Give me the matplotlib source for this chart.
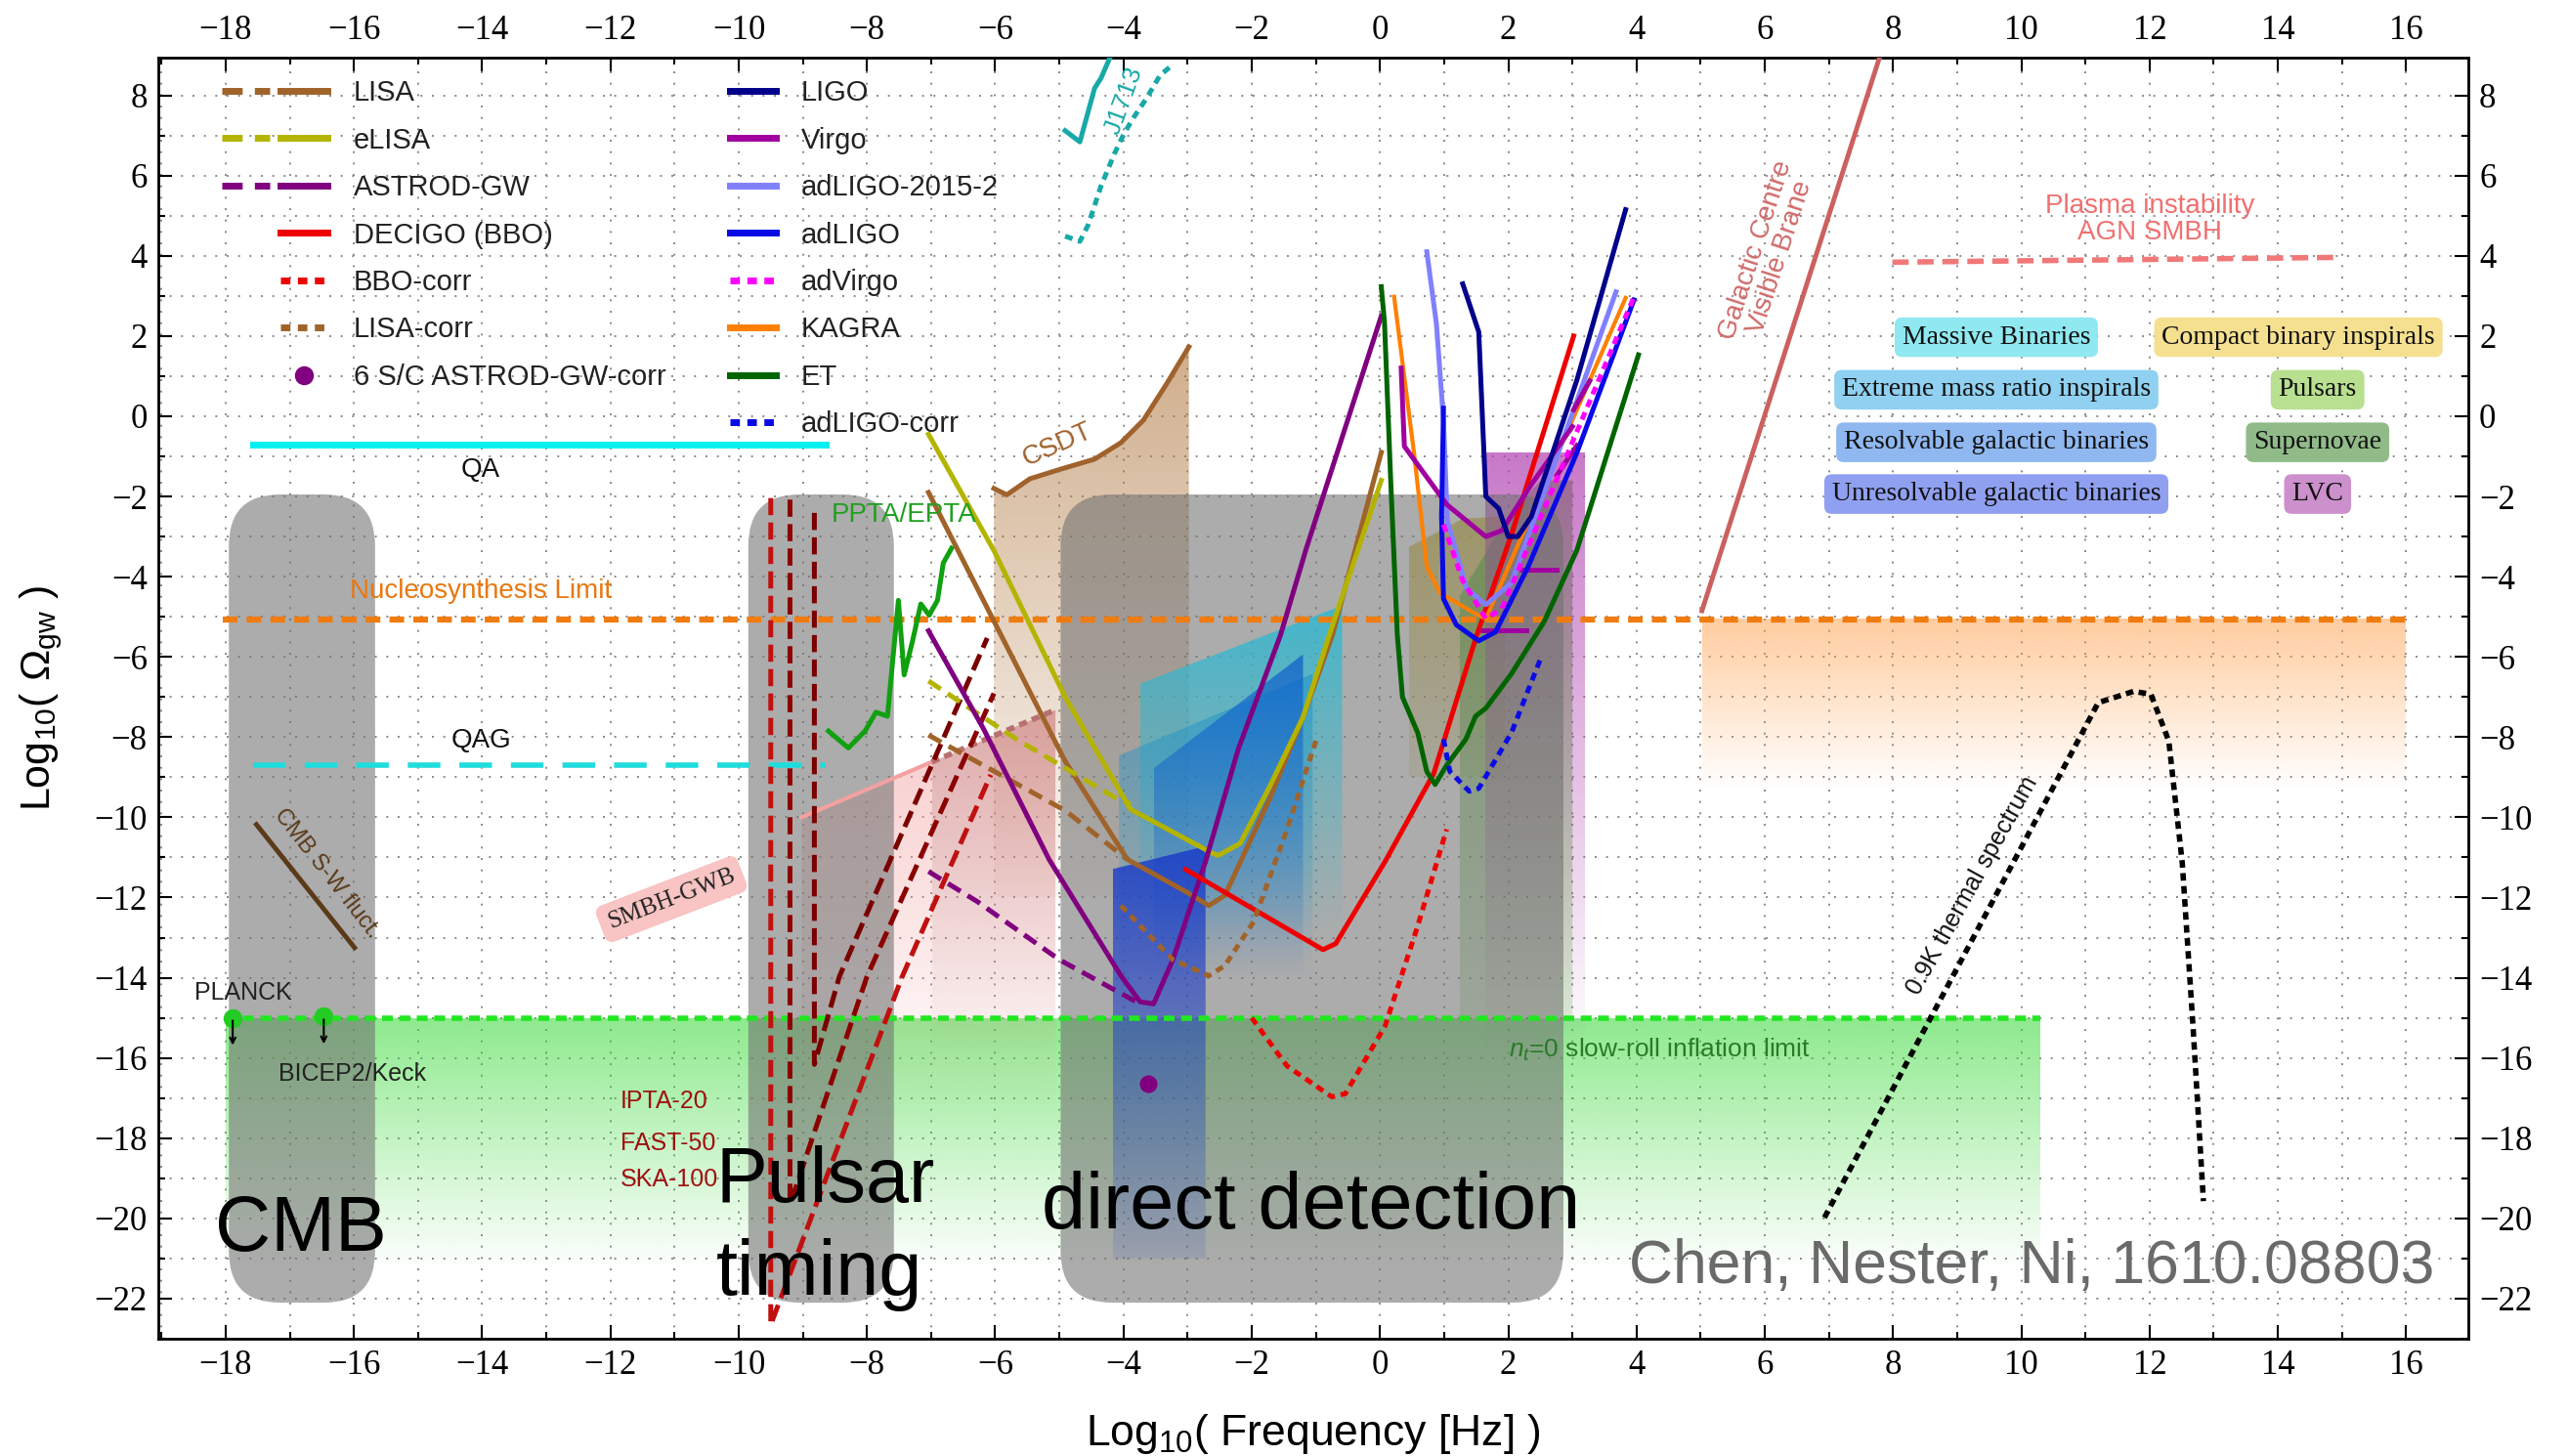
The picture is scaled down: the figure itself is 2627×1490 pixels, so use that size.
import numpy as np
import matplotlib
matplotlib.use('Agg')
import matplotlib.pyplot as plt
from matplotlib.patches import Polygon, FancyBboxPatch
from matplotlib.lines import Line2D
from matplotlib.legend_handler import HandlerTuple
from matplotlib.colors import to_rgb
from matplotlib.ticker import MultipleLocator

plt.rcParams['font.family'] = ['Liberation Sans', 'DejaVu Sans']
plt.rcParams['mathtext.fontset'] = 'custom'
plt.rcParams['mathtext.rm'] = 'Liberation Sans'
plt.rcParams['mathtext.it'] = 'Liberation Sans:italic'

# ---- detector curves: log10 f [Hz], log10 Omega_gw ----
lisa_x = [-7.04, -4.91, -3.94, -3.03, -2.67, -2.42, -1.71, -1.2, -0.74, 0.02]
lisa_y = [-1.9, -8.6, -11.05, -11.85, -12.2, -11.95, -9.5, -7.5, -5.45, -0.9]
lisa_dash_x = [-7.04, -4.91, -3.94]
lisa_dash_y = [-7.95, -9.83, -11.05]
elisa_x = [-7.04, -6.02, -4.91, -3.89, -2.62, -2.52, -2.18, -1.71, -1.2, -0.79, 0.02]
elisa_y = [-0.45, -3.35, -7.0, -9.8, -10.89, -10.95, -10.65, -9.2, -7.5, -5.45, -1.6]
elisa_dash_x = [-7.04, -5.67, -4.14, -3.89]
elisa_dash_y = [-6.6, -8.05, -9.5, -9.67]
astrod_x = [-7.04, -6.18, -5.16, -4.04, -3.74, -3.53, -3.23, -2.72, -2.21, -1.55, -1.15, 0.02]
astrod_y = [-5.35, -7.8, -11.05, -13.95, -14.6, -14.65, -13.55, -11.1, -8.3, -5.45, -3.3, 2.5]
astrod_dash_x = [-7.04, -6.28, -5.0, -3.8]
astrod_dash_y = [-11.35, -12.1, -13.55, -14.6]
decigo_x = [-3.03, -0.89, -0.69, 0.08, 0.84, 1.5, 2.05, 3.02]
decigo_y = [-11.3, -13.3, -13.15, -11.1, -8.9, -5.5, -2.95, 2.0]
bbo_corr_x = [-2.0, -1.45, -0.75, -0.54, 0.08, 0.58, 1.04]
bbo_corr_y = [-15.0, -16.2, -16.97, -16.89, -15.2, -12.75, -10.3]
lisa_corr_x = [-4.04, -3.23, -2.67, -2.42, -1.97, -1.45, -0.99]
lisa_corr_y = [-12.2, -13.55, -13.95, -13.7, -12.6, -10.3, -8.05]
astrod_corr = (-3.61, -16.65)

ligo_x = [1.29, 1.54, 1.65, 1.85, 2.0, 2.15, 2.36, 3.07, 3.83]
ligo_y = [3.3, 2.1, -2.0, -2.3, -3.0, -3.0, -2.5, 0.9, 5.15]
virgo_x = [0.33, 0.38, 1.04, 1.65, 1.9, 2.36, 3.0]
virgo_y = [1.2, -0.75, -2.2, -3.0, -2.85, -1.7, -0.26]
virgo_bits = [((1.6, 2.28), (-5.33, -5.33)), ((2.2, 2.76), (-3.83, -3.83)),
              ((2.76, 3.07), (-1.47, -0.73)), ((3.02, 3.27), (0.16, 0.88))]
ligo15_x = [0.73, 0.88, 0.99, 1.05, 1.35, 1.65, 2.05, 3.68]
ligo15_y = [4.1, 2.3, -0.1, -2.6, -4.3, -4.7, -4.15, 3.1]
adligo_x = [0.99, 0.96, 0.99, 1.19, 1.54, 1.8, 2.31, 3.07, 3.96]
adligo_y = [0.2, -2.5, -4.55, -5.2, -5.6, -5.38, -3.75, -0.91, 2.9]
advirgo_x = [0.99, 1.29, 1.65, 1.9, 3.98]
advirgo_y = [-2.7, -4.1, -5.05, -4.8, 3.05]
kagra_x = [0.22, 0.53, 0.73, 0.93, 1.44, 1.65, 3.83]
kagra_y = [2.98, -0.91, -3.75, -4.4, -4.88, -5.05, 2.95]
et_x = [0.02, 0.07, 0.17, 0.27, 0.35, 0.59, 0.73, 0.86, 1.04, 1.34, 1.49, 1.65, 2.05, 2.56, 3.07, 4.03]
et_y = [3.23, 2.34, -1.72, -5.45, -7.0, -7.9, -8.86, -9.18, -8.7, -8.05, -7.48, -7.28, -6.42, -5.12, -3.34, 1.53]
adligo_corr_x = [0.99, 1.09, 1.39, 1.54, 2.05, 2.51]
adligo_corr_y = [-8.05, -8.86, -9.35, -9.28, -7.89, -6.02]

# pulsar timing
ppta_x = [-8.6, -8.29, -8.03, -7.86, -7.68, -7.51, -7.42, -7.29, -7.16, -7.03, -6.9, -6.81, -6.68]
ppta_y = [-7.85, -8.27, -7.85, -7.38, -7.48, -4.59, -6.45, -5.61, -4.68, -4.96, -4.59, -3.66, -3.29]
ipta_x = [-9.5, -9.5, -7.45, -6.07]
ipta_y = [-2.04, -22.65, -13.97, -8.94]
fast_x = [-9.2, -9.2, -8.0, -6.02]
fast_y = [-2.08, -19.65, -13.97, -6.91]
ska_x = [-8.82, -8.82, -8.43, -6.125]
ska_y = [-2.41, -16.16, -13.97, -5.53]
j1713_x = [-4.91, -4.68, -4.45, -4.35, -4.22]
j1713_y = [7.12, 6.84, 8.18, 8.43, 8.91]
j1713_dot_x = [-4.91, -4.68, -4.55, -4.35, -4.14, -3.99, -3.84, -3.64, -3.43, -3.28]
j1713_dot_y = [4.49, 4.36, 4.77, 5.74, 6.55, 7.05, 7.45, 7.93, 8.5, 8.7]
csdt_x = [-6.02, -5.82, -5.46, -4.96, -4.45, -4.04, -3.69, -3.33, -2.98]
csdt_y = [-1.8, -1.96, -1.56, -1.31, -1.07, -0.66, -0.1, 0.8, 1.73]

# limits and other curves
qa = (-17.57, -8.65, -0.7)
qag = (-17.57, -8.65, -8.71)
nucleo = (-18.05, 16.0, -5.08)
inflation = (-18.0, 10.3, -15.0)
plasma_x = [7.99, 14.93]
plasma_y = [3.84, 3.96]
galactic_x = [5.02, 7.8]
galactic_y = [-4.85, 9.0]
thermal_x = [6.93, 11.2, 11.75, 12.02, 12.3, 12.51, 12.68, 12.84]
thermal_y = [-19.98, -7.14, -6.86, -6.93, -8.1, -11.14, -15.28, -19.57]
cmb_sw_x = [-17.52, -15.99]
cmb_sw_y = [-10.18, -13.25]
planck = (-17.89, -15.0)
bicep = (-16.47, -14.97)
smbh_edge_x = [-9.02, -6.99]
smbh_edge_y = [-10.0, -8.62]
smbh_dot_x = [-6.99, -5.06]
smbh_dot_y = [-8.62, -7.32]

# shaded regions (vertices) with colour, top alpha, bottom alpha; drawn under the grey boxes
regions_under = [
    ([(-18.0, -15.0), (10.3, -15.0), (10.3, -21.3), (-18.0, -21.3)], '#30d830', 0.55, 0.0),
    ([(5.02, -5.05), (16.0, -5.05), (16.0, -9.3), (5.02, -9.3)], '#ff9a40', 0.5, 0.0),
    (list(zip(csdt_x, csdt_y)) + [(-2.98, -12.0), (-6.02, -12.0)], '#b07840', 0.6, 0.05),
    ([(-9.02, -10.0), (-6.99, -8.62), (-5.06, -7.32), (-5.06, -17.5), (-9.02, -17.5)], '#f4a0a0', 0.55, 0.0),
    ([(-6.99, -8.62), (-5.06, -7.32), (-5.06, -16.0), (-6.99, -16.0)], '#a06060', 0.3, 0.0),
    ([(0.45, -3.26), (1.3, -2.55), (1.95, -2.5), (1.95, -9.0), (0.45, -9.0)], '#d8c040', 0.85, 0.2),
    ([(1.24, -4.5), (1.95, -2.6), (2.5, -1.6), (3.0, -1.6), (3.0, -15.0), (1.24, -15.0)], '#50b030', 0.75, 0.2),
    ([(1.64, -0.9), (3.2, -0.9), (3.2, -16.0), (1.64, -16.0)], '#b040b0', 0.7, 0.0),
]
# source regions drawn above the grey boxes
regions_over = [
    ([(-3.74, -6.67), (-0.59, -4.72), (-0.59, -13.0), (-3.74, -13.0)], '#30b8d0', 0.85, 0.0),
    ([(-4.07, -8.46), (-1.05, -6.42), (-1.05, -14.0), (-4.07, -14.0)], '#2094c8', 0.6, 0.0),
    ([(-3.53, -8.78), (-1.2, -5.94), (-1.2, -14.0), (-3.53, -14.0)], '#1060cc', 0.75, 0.0),
    ([(-4.17, -11.29), (-2.72, -10.72), (-2.72, -21.0), (-4.17, -21.0)], '#1a3cc8', 0.85, 0.1),
]

# grey "method" boxes: x0, x1, y0, y1
boxes = [(-17.95, -15.67, -22.1, -1.95), (-9.85, -7.58, -22.1, -1.95), (-4.98, 2.86, -22.1, -1.95)]

# source category labels: text, x, y, colour
sources = [
    ('Massive Binaries', 9.61, 1.97, '#90e8f0'),
    ('Compact binary inspirals', 14.32, 1.97, '#f5e090'),
    ('Extreme mass ratio inspirals', 9.61, 0.66, '#90d0f0'),
    ('Pulsars', 14.62, 0.66, '#b8e090'),
    ('Resolvable galactic binaries', 9.61, -0.65, '#90b8f0'),
    ('Supernovae', 14.62, -0.65, '#90bb88'),
    ('Unresolvable galactic binaries', 9.61, -1.94, '#90a0f0'),
    ('LVC', 14.62, -1.94, '#cc90cc'),
]

c_lisa, c_elisa, c_astrod = '#a0632a', '#b4b400', '#800080'
c_decigo, c_ligo, c_virgo = '#ee0000', '#00008b', '#a000a0'
c_ligo15, c_adligo, c_advirgo = '#8080ff', '#0a0ae6', '#ff00ff'
c_kagra, c_et = '#ff8000', '#006400'

fig = plt.figure(figsize=(26.27, 14.90), dpi=100)
ax = fig.add_axes([162 / 2627, 1 - 1370 / 1490, 2364 / 2627, 1311 / 1490])


def fade(ax, verts, color, a_top, a_bot, z=1):
    verts = np.asarray(verts)
    patch = Polygon(verts, closed=True, fc='none', ec='none')
    ax.add_patch(patch)
    img = np.ones((256, 1, 4))
    img[..., :3] = to_rgb(color)
    img[..., 3] = np.linspace(a_top, a_bot, 256)[:, None]
    im = ax.imshow(img, extent=(verts[:, 0].min(), verts[:, 0].max(),
                                verts[:, 1].min(), verts[:, 1].max()),
                   origin='upper', aspect='auto', zorder=z, interpolation='bilinear')
    im.set_clip_path(patch)


for v, c, a0, a1 in regions_under:
    fade(ax, v, c, a0, a1, z=1)
for v, c, a0, a1 in regions_over:
    fade(ax, v, c, a0, a1, z=2.5)

for x0, x1, y0, y1 in boxes:
    ax.add_patch(FancyBboxPatch((x0, y0), x1 - x0, y1 - y0,
                                boxstyle='round,pad=0,rounding_size=0.8',
                                mutation_aspect=1.6, fc='#707070', ec='none',
                                alpha=0.58, zorder=2))

lw = 3.6
dash = (0, (3, 1.7))
dot = (0, (1.6, 1.2))
# horizontal limits
ax.plot(qa[:2], [qa[2]] * 2, color='#00f0f0', lw=5, zorder=3)
ax.plot(qag[:2], [qag[2]] * 2, color='#20dcdc', lw=4, ls=(0, (6, 3.5)), zorder=3)
ax.plot(nucleo[:2], [nucleo[2]] * 2, color='#f07c10', lw=4.5, ls=(0, (2.4, 1.5)), zorder=3)
ax.plot(inflation[:2], [inflation[2]] * 2, color='#22e622', lw=4, ls=(0, (2, 1.2)), zorder=3)
ax.plot(plasma_x, plasma_y, color='#f07878', lw=4, ls=(0, (3, 1.6)), zorder=3)
ax.plot(galactic_x, galactic_y, color='#cc6060', lw=3.5, zorder=3)
ax.plot(thermal_x, thermal_y, color='black', lw=4, ls=(0, (1.4, 1.0)), zorder=3)
ax.plot(cmb_sw_x, cmb_sw_y, color='#5a3a1a', lw=3.5, zorder=3)
ax.plot(smbh_edge_x, smbh_edge_y, color='#f4a0a0', lw=3, zorder=3)
ax.plot(smbh_dot_x, smbh_dot_y, color='#b87070', lw=4, ls=(0, (1.5, 1)), zorder=3)

# pulsar timing curves
ax.plot(ppta_x, ppta_y, color='#10a010', lw=lw, zorder=3)
ax.plot(ipta_x, ipta_y, color='#c01010', lw=lw, ls=(0, (3.5, 1.5)), zorder=3)
ax.plot(fast_x, fast_y, color='#8b0000', lw=lw, ls=(0, (3.5, 1.5)), zorder=3)
ax.plot(ska_x, ska_y, color='#7a0000', lw=lw, ls=(0, (3.5, 1.5)), zorder=3)
ax.plot(j1713_x, j1713_y, color='#18a8a8', lw=lw, zorder=3)
ax.plot(j1713_dot_x, j1713_dot_y, color='#18a8a8', lw=lw, ls=dot, zorder=3)
ax.plot(csdt_x, csdt_y, color='#a0622d', lw=lw, zorder=3)

# space detectors
ax.plot(lisa_x, lisa_y, color=c_lisa, lw=lw, zorder=3)
ax.plot(lisa_dash_x, lisa_dash_y, color=c_lisa, lw=lw, ls=dash, zorder=3)
ax.plot(elisa_x, elisa_y, color=c_elisa, lw=lw, zorder=3)
ax.plot(elisa_dash_x, elisa_dash_y, color=c_elisa, lw=lw, ls=dash, zorder=3)
ax.plot(astrod_x, astrod_y, color=c_astrod, lw=lw, zorder=3)
ax.plot(astrod_dash_x, astrod_dash_y, color=c_astrod, lw=lw, ls=dash, zorder=3)
ax.plot(decigo_x, decigo_y, color=c_decigo, lw=lw, zorder=3)
ax.plot(bbo_corr_x, bbo_corr_y, color=c_decigo, lw=lw, ls=dot, zorder=3)
ax.plot(lisa_corr_x, lisa_corr_y, color=c_lisa, lw=lw, ls=dot, zorder=3)
ax.plot(*astrod_corr, 'o', color=c_astrod, ms=12, zorder=3)

# ground detectors
ax.plot(et_x, et_y, color=c_et, lw=lw, zorder=3)
ax.plot(kagra_x, kagra_y, color=c_kagra, lw=3, zorder=3)
ax.plot(ligo15_x, ligo15_y, color=c_ligo15, lw=lw, zorder=3)
ax.plot(virgo_x, virgo_y, color=c_virgo, lw=lw, zorder=3)
for bx, by in virgo_bits:
    ax.plot(bx, by, color=c_virgo, lw=lw, zorder=3)
ax.plot(ligo_x, ligo_y, color=c_ligo, lw=lw, zorder=3)
ax.plot(adligo_x, adligo_y, color=c_adligo, lw=lw, zorder=3)
ax.plot(advirgo_x, advirgo_y, color=c_advirgo, lw=lw, ls=dot, zorder=3)
ax.plot(adligo_corr_x, adligo_corr_y, color=c_adligo, lw=lw, ls=dot, zorder=3)

# CMB upper limits
for px, py in (planck, bicep):
    ax.plot(px, py, 'o', color='#22cc22', ms=13, zorder=4)
    ax.annotate('', xy=(px, py - 0.75), xytext=(px, py),
                arrowprops=dict(arrowstyle='->', color='black', lw=1.5), zorder=4)

# labels
tk = dict(zorder=6)
ax.text(-14.02, -1.33, 'QA', fontsize=20, ha='center', va='center', color='#111111', **tk)
ax.text(-14.02, -8.08, 'QAG', fontsize=20, ha='center', va='center', color='#111111', **tk)
ax.text(-14.02, -4.36, 'Nucleosynthesis Limit', fontsize=20, ha='center', va='center', color='#e87810', **tk)
ax.text(-8.56, -2.45, 'PPTA/EPTA', fontsize=20, ha='left', va='center', color='#20a020', **tk)
ax.text(-5.03, -0.71, 'CSDT', fontsize=20, ha='center', va='center', color='#a0622d', rotation=24, **tk)
ax.text(-3.99, 7.86, 'J1713', fontsize=19, ha='center', va='center', color='#18a8a8', rotation=70, **tk)
ax.text(6.05, 4.05, 'Galactic Centre\nVisible Brane', fontsize=20, ha='center', va='center',
        color='#d06a6a', rotation=72, linespacing=1.0, **tk)
ax.text(12.0, 4.9, 'Plasma instability\nAGN SMBH', fontsize=20, ha='center', va='center',
        color='#f07070', linespacing=1.05, **tk)
ax.text(9.23, -11.69, '0.9K thermal spectrum', fontsize=18, ha='center', va='center',
        rotation=61, color='#111111', **tk)
ax.text(2.0, -15.8, r'$n_t$=0 slow-roll inflation limit', fontsize=19, ha='left', va='center',
        color='#2a7a2a', **tk)
ax.text(-16.43, -11.39, 'CMB S-W fluct.', fontsize=17, ha='center', va='center',
        rotation=-52, color='#5a3a1a', **tk)
ax.text(-17.73, -14.38, 'PLANCK', fontsize=18, ha='center', va='center', color='#222222', **tk)
ax.text(-16.02, -16.4, 'BICEP2/Keck', fontsize=18, ha='center', va='center', color='#222222', **tk)
for lab, yy in (('IPTA-20', -17.07), ('FAST-50', -18.12), ('SKA-100', -19.04)):
    ax.text(-11.85, yy, lab, fontsize=18, ha='left', va='center', color='#a01010', **tk)
ax.text(-11.05, -12.04, 'SMBH-GWB', fontsize=18, family='Liberation Serif', ha='center', va='center',
        rotation=21, color='#222222', zorder=6,
        bbox=dict(boxstyle='round,pad=0.35', fc='#f8c4c4', ec='none'))
for txt, sx, sy, sc in sources:
    ax.text(sx, sy, txt, fontsize=20, family='Liberation Serif', ha='center', va='center',
            color='#111111', zorder=6,
            bbox=dict(boxstyle='round,pad=0.28', fc=sc, ec='none'))

ax.text(-18.17, -20.8, 'CMB', fontsize=57, ha='left', va='baseline', color='black', zorder=7)
ax.text(-10.36, -19.6, 'Pulsar', fontsize=57, ha='left', va='baseline', color='black', zorder=7)
ax.text(-10.36, -21.9, 'timing', fontsize=57, ha='left', va='baseline', color='black', zorder=7)
ax.text(-5.28, -20.25, 'direct detection', fontsize=58.5, ha='left', va='baseline', color='black', zorder=7)
ax.text(16.44, -21.2, 'Chen, Nester, Ni, 1610.08803', fontsize=45, ha='right', va='center',
        color='#6a6a6a', zorder=7)

# legends
blank = Line2D([], [], color='none')
h1 = [
    (Line2D([], [], color=c_lisa, lw=5, ls=(0, (3, 1.8))), Line2D([], [], color=c_lisa, lw=5)),
    (Line2D([], [], color=c_elisa, lw=5, ls=(0, (3, 1.8))), Line2D([], [], color=c_elisa, lw=5)),
    (Line2D([], [], color=c_astrod, lw=5, ls=(0, (3, 1.8))), Line2D([], [], color=c_astrod, lw=5)),
    (blank, Line2D([], [], color=c_decigo, lw=5)),
    (blank, Line2D([], [], color=c_decigo, lw=5, ls=(0, (1.4, 1.1)))),
    (blank, Line2D([], [], color=c_lisa, lw=5, ls=(0, (1.4, 1.1)))),
    (blank, Line2D([], [], ls='none', marker='o', ms=13, color=c_astrod)),
]
l1 = ['LISA', 'eLISA', 'ASTROD-GW', 'DECIGO (BBO)', 'BBO-corr', 'LISA-corr', '6 S/C ASTROD-GW-corr']
h2 = [
    Line2D([], [], color=c_ligo, lw=5), Line2D([], [], color=c_virgo, lw=5),
    Line2D([], [], color=c_ligo15, lw=5), Line2D([], [], color=c_adligo, lw=5),
    Line2D([], [], color=c_advirgo, lw=5, ls=(0, (1.4, 1.1))), Line2D([], [], color=c_kagra, lw=5),
    Line2D([], [], color=c_et, lw=5), Line2D([], [], color=c_adligo, lw=5, ls=(0, (1.4, 1.1))),
]
l2 = ['LIGO', 'Virgo', 'adLIGO-2015-2', 'adLIGO', 'adVirgo', 'KAGRA', 'ET', 'adLIGO-corr']
leg_kw = dict(loc='upper left', frameon=False, fontsize=21, labelcolor='#222222',
              handletextpad=0.9, labelspacing=0.7, borderpad=0, borderaxespad=0)
leg1 = ax.legend(h1, l1, bbox_to_anchor=(0.0277, 0.983), handlelength=3.7,
                 handler_map={tuple: HandlerTuple(ndivide=None, pad=0.4)}, **leg_kw)
leg1.set_zorder(10)
ax.add_artist(leg1)
leg2 = ax.legend(h2, l2, bbox_to_anchor=(0.2475, 0.983), handlelength=1.6, **leg_kw)
leg2.set_zorder(10)

# axes
ax.set_xlim(-19.05, 16.97)
ax.set_ylim(-23.0, 8.94)
ax.xaxis.set_major_locator(MultipleLocator(2))
ax.xaxis.set_minor_locator(MultipleLocator(1))
ax.yaxis.set_major_locator(MultipleLocator(2))
ax.yaxis.set_minor_locator(MultipleLocator(1))
ax.grid(which='both', color='#8a8a8a', lw=1.4, ls=(0, (1, 5)), zorder=0)
ax.set_axisbelow(True)
ax.tick_params(which='both', direction='in', top=True, right=True, labeltop=True, labelright=True,
               width=1.5, labelsize=25, pad=8, labelfontfamily='Liberation Serif')
ax.tick_params(which='major', length=10)
ax.tick_params(which='minor', length=5)
for s in ax.spines.values():
    s.set_linewidth(2)
ax.set_xlabel(r'Log$_{10}$( Frequency [Hz] )', fontsize=32, labelpad=22)
ax.set_ylabel(r'Log$_{10}$( $\Omega_{\rm gw}$ )', fontsize=31, labelpad=22)

fig.savefig('out.png', dpi=100, facecolor='white')
